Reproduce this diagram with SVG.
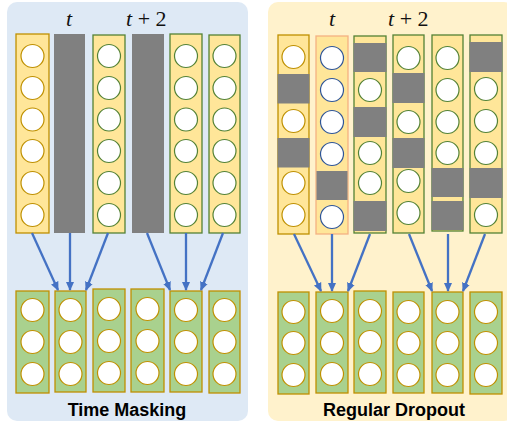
<svg xmlns="http://www.w3.org/2000/svg" width="507" height="423" viewBox="0 0 507 423">
<defs>
<style>
.bgL{fill:#dee9f5}
.bgR{fill:#fff2cc}
.yg{fill:#ffe699;stroke:#bf9000;stroke-width:1.3}
.yn{fill:#ffe699;stroke:#548235;stroke-width:1.3}
.ys{fill:#ffe699;stroke:#f4b183;stroke-width:1.3}
.gb{fill:#a9d18e;stroke:#bf9000;stroke-width:1.3}
.grey{fill:#808080}
.cg{fill:#fff;stroke:#bf9000;stroke-width:1.2}
.cn{fill:#fff;stroke:#548235;stroke-width:1.2}
.cb{fill:#fff;stroke:#2f5597;stroke-width:1.2}
.arr{stroke:#4472c4;stroke-width:2.3;fill:none;marker-end:url(#ah)}
.lab{font-family:"Liberation Serif",serif;font-size:22px;fill:#111}
.title{font-family:"Liberation Sans",Arial,sans-serif;font-size:18px;font-weight:bold;fill:#000;text-anchor:middle}
</style>
<marker id="ah" markerWidth="9" markerHeight="9" refX="8" refY="4.5" orient="auto" markerUnits="userSpaceOnUse">
<path d="M0,0.5 L9,4.5 L0,8.5 Z" fill="#4472c4"/>
</marker>
</defs>

<rect class="bgL" x="7" y="2" width="241" height="419" rx="10"/>
<rect class="bgR" x="268" y="2" width="246" height="419" rx="10"/>

<text class="lab" x="66" y="26" font-style="italic">t</text>
<text class="lab" x="126" y="26"><tspan font-style="italic">t</tspan> + 2</text>
<text class="lab" x="329" y="26" font-style="italic">t</text>
<text class="lab" x="388" y="26"><tspan font-style="italic">t</tspan> + 2</text>

<g id="left-top">
<g id="L1"><rect class="yg" x="16" y="34" width="33" height="199"/>
<circle class="cg" cx="32.5" cy="56" r="11.5"/><circle class="cg" cx="32.5" cy="88" r="11.5"/><circle class="cg" cx="32.5" cy="119.5" r="11.5"/><circle class="cg" cx="32.5" cy="151" r="11.5"/><circle class="cg" cx="32.5" cy="183" r="11.5"/><circle class="cg" cx="32.5" cy="215" r="11.5"/></g>
<g id="L2"><rect class="grey" x="54" y="34" width="31" height="199"/></g>
<g id="L3"><rect class="yn" x="93" y="35" width="32" height="198"/>
<circle class="cn" cx="109" cy="56" r="11.5"/><circle class="cn" cx="109" cy="88" r="11.5"/><circle class="cn" cx="109" cy="119.5" r="11.5"/><circle class="cn" cx="109" cy="151" r="11.5"/><circle class="cn" cx="109" cy="183" r="11.5"/><circle class="cn" cx="109" cy="215" r="11.5"/></g>
<g id="L4"><rect class="grey" x="132" y="34" width="32" height="199"/></g>
<g id="L5"><rect class="yn" x="170" y="34" width="32" height="199"/>
<circle class="cn" cx="186" cy="56" r="11.5"/><circle class="cn" cx="186" cy="88" r="11.5"/><circle class="cn" cx="186" cy="119.5" r="11.5"/><circle class="cn" cx="186" cy="151" r="11.5"/><circle class="cn" cx="186" cy="183" r="11.5"/><circle class="cn" cx="186" cy="215" r="11.5"/></g>
<g id="L6"><rect class="yn" x="209" y="35" width="31" height="198"/>
<circle class="cn" cx="224.5" cy="56" r="11.5"/><circle class="cn" cx="224.5" cy="88" r="11.5"/><circle class="cn" cx="224.5" cy="119.5" r="11.5"/><circle class="cn" cx="224.5" cy="151" r="11.5"/><circle class="cn" cx="224.5" cy="183" r="11.5"/><circle class="cn" cx="224.5" cy="215" r="11.5"/></g>
</g>

<g id="left-bottom">
<g id="LB1"><rect class="gb" x="16" y="291" width="33" height="102"/><circle class="cg" cx="32.5" cy="310" r="11.5"/><circle class="cg" cx="32.5" cy="342" r="11.5"/><circle class="cg" cx="32.5" cy="374" r="11.5"/></g>
<g id="LB2"><rect class="gb" x="55" y="291" width="31" height="101"/><circle class="cg" cx="70.5" cy="310" r="11.5"/><circle class="cg" cx="70.5" cy="342" r="11.5"/><circle class="cg" cx="70.5" cy="374" r="11.5"/></g>
<g id="LB3"><rect class="gb" x="93" y="289" width="32" height="103"/><circle class="cg" cx="109" cy="309" r="11.5"/><circle class="cg" cx="109" cy="341" r="11.5"/><circle class="cg" cx="109" cy="373" r="11.5"/></g>
<g id="LB4"><rect class="gb" x="131" y="289" width="33" height="103"/><circle class="cg" cx="147.5" cy="309" r="11.5"/><circle class="cg" cx="147.5" cy="341" r="11.5"/><circle class="cg" cx="147.5" cy="373" r="11.5"/></g>
<g id="LB5"><rect class="gb" x="170" y="291" width="32" height="101"/><circle class="cg" cx="186" cy="310" r="11.5"/><circle class="cg" cx="186" cy="342" r="11.5"/><circle class="cg" cx="186" cy="374" r="11.5"/></g>
<g id="LB6"><rect class="gb" x="209" y="291" width="31" height="102"/><circle class="cg" cx="224.5" cy="310" r="11.5"/><circle class="cg" cx="224.5" cy="342" r="11.5"/><circle class="cg" cx="224.5" cy="374" r="11.5"/></g>
</g>

<g id="right-top">
<g id="R1"><rect class="yg" x="278" y="35" width="31" height="199"/>
<circle class="cg" cx="293.5" cy="57" r="11.5"/><rect class="grey" x="277.5" y="74" width="32" height="29.5"/><circle class="cg" cx="293.5" cy="121" r="11.5"/><rect class="grey" x="277.5" y="138" width="32" height="29.5"/><circle class="cg" cx="293.5" cy="183" r="11.5"/><circle class="cg" cx="293.5" cy="215" r="11.5"/></g>
<g id="R2"><rect class="ys" x="316" y="36" width="32" height="198"/>
<circle class="cb" cx="332" cy="58" r="11.5"/><circle class="cb" cx="332" cy="90" r="11.5"/><circle class="cb" cx="332" cy="122" r="11.5"/><circle class="cb" cx="332" cy="154" r="11.5"/><rect class="grey" x="316.5" y="171" width="31" height="29"/><circle class="cb" cx="332" cy="217" r="11.5"/></g>
<g id="R3"><rect class="yn" x="354" y="36" width="32" height="197"/>
<rect class="grey" x="353.5" y="43" width="33" height="29"/><circle class="cn" cx="370" cy="90" r="11.5"/><rect class="grey" x="353.5" y="107" width="33" height="30"/><circle class="cn" cx="370" cy="153" r="11.5"/><circle class="cn" cx="370" cy="183" r="11.5"/><rect class="grey" x="353.5" y="201" width="33" height="30"/></g>
<g id="R4"><rect class="yn" x="393" y="35" width="31" height="198"/>
<circle class="cn" cx="408.5" cy="58" r="11.5"/><rect class="grey" x="392.5" y="73" width="32" height="30"/><circle class="cn" cx="408.5" cy="122" r="11.5"/><rect class="grey" x="392.5" y="138" width="32" height="30"/><circle class="cn" cx="408.5" cy="181" r="11.5"/><circle class="cn" cx="408.5" cy="213" r="11.5"/></g>
<g id="R5"><rect class="yn" x="432" y="35" width="31" height="196"/>
<circle class="cn" cx="447.5" cy="58" r="11.5"/><circle class="cn" cx="447.5" cy="90" r="11.5"/><circle class="cn" cx="447.5" cy="122" r="11.5"/><circle class="cn" cx="447.5" cy="153" r="11.5"/><rect class="grey" x="431.5" y="168" width="32" height="29"/><rect class="grey" x="431.5" y="201" width="32" height="29"/></g>
<g id="R6"><rect class="yn" x="470" y="35" width="32" height="198"/>
<rect class="grey" x="469.5" y="42" width="33" height="30"/><circle class="cn" cx="486" cy="89" r="11.5"/><circle class="cn" cx="486" cy="121" r="11.5"/><circle class="cn" cx="486" cy="153" r="11.5"/><rect class="grey" x="469.5" y="168" width="33" height="30"/><circle class="cn" cx="486" cy="215" r="11.5"/></g>
</g>

<g id="right-bottom">
<g id="RB1"><rect class="gb" x="278" y="292" width="31" height="102"/><circle class="cg" cx="293.5" cy="312" r="11.5"/><circle class="cg" cx="293.5" cy="343" r="11.5"/><circle class="cg" cx="293.5" cy="375" r="11.5"/></g>
<g id="RB2"><rect class="gb" x="316" y="292" width="32" height="101"/><circle class="cg" cx="332" cy="311" r="11.5"/><circle class="cg" cx="332" cy="343" r="11.5"/><circle class="cg" cx="332" cy="374" r="11.5"/></g>
<g id="RB3"><rect class="gb" x="354" y="291" width="32" height="102"/><circle class="cg" cx="370" cy="311" r="11.5"/><circle class="cg" cx="370" cy="342" r="11.5"/><circle class="cg" cx="370" cy="374" r="11.5"/></g>
<g id="RB4"><rect class="gb" x="393" y="292" width="31" height="101"/><circle class="cg" cx="408.5" cy="312" r="11.5"/><circle class="cg" cx="408.5" cy="343" r="11.5"/><circle class="cg" cx="408.5" cy="375" r="11.5"/></g>
<g id="RB5"><rect class="gb" x="432" y="292" width="31" height="101"/><circle class="cg" cx="447.5" cy="312" r="11.5"/><circle class="cg" cx="447.5" cy="343" r="11.5"/><circle class="cg" cx="447.5" cy="375" r="11.5"/></g>
<g id="RB6"><rect class="gb" x="470" y="292" width="32" height="102"/><circle class="cg" cx="486" cy="312" r="11.5"/><circle class="cg" cx="486" cy="343" r="11.5"/><circle class="cg" cx="486" cy="375" r="11.5"/></g>
</g>

<g id="connectors">
<line class="arr" x1="32" y1="233" x2="58" y2="290"/>
<line class="arr" x1="70" y1="233" x2="70" y2="290"/>
<line class="arr" x1="108" y1="233" x2="86" y2="290"/>
<line class="arr" x1="147" y1="233" x2="170" y2="290"/>
<line class="arr" x1="186" y1="233" x2="186" y2="290"/>
<line class="arr" x1="223" y1="233" x2="201" y2="290"/>
<line class="arr" x1="294" y1="234" x2="321" y2="291"/>
<line class="arr" x1="332" y1="234" x2="332" y2="291"/>
<line class="arr" x1="370" y1="234" x2="348" y2="291"/>
<line class="arr" x1="409" y1="234" x2="432" y2="291"/>
<line class="arr" x1="448" y1="234" x2="448" y2="291"/>
<line class="arr" x1="485" y1="234" x2="463" y2="291"/>
</g>

<text class="title" x="127" y="416">Time Masking</text>
<text class="title" x="394" y="416">Regular Dropout</text>
</svg>
